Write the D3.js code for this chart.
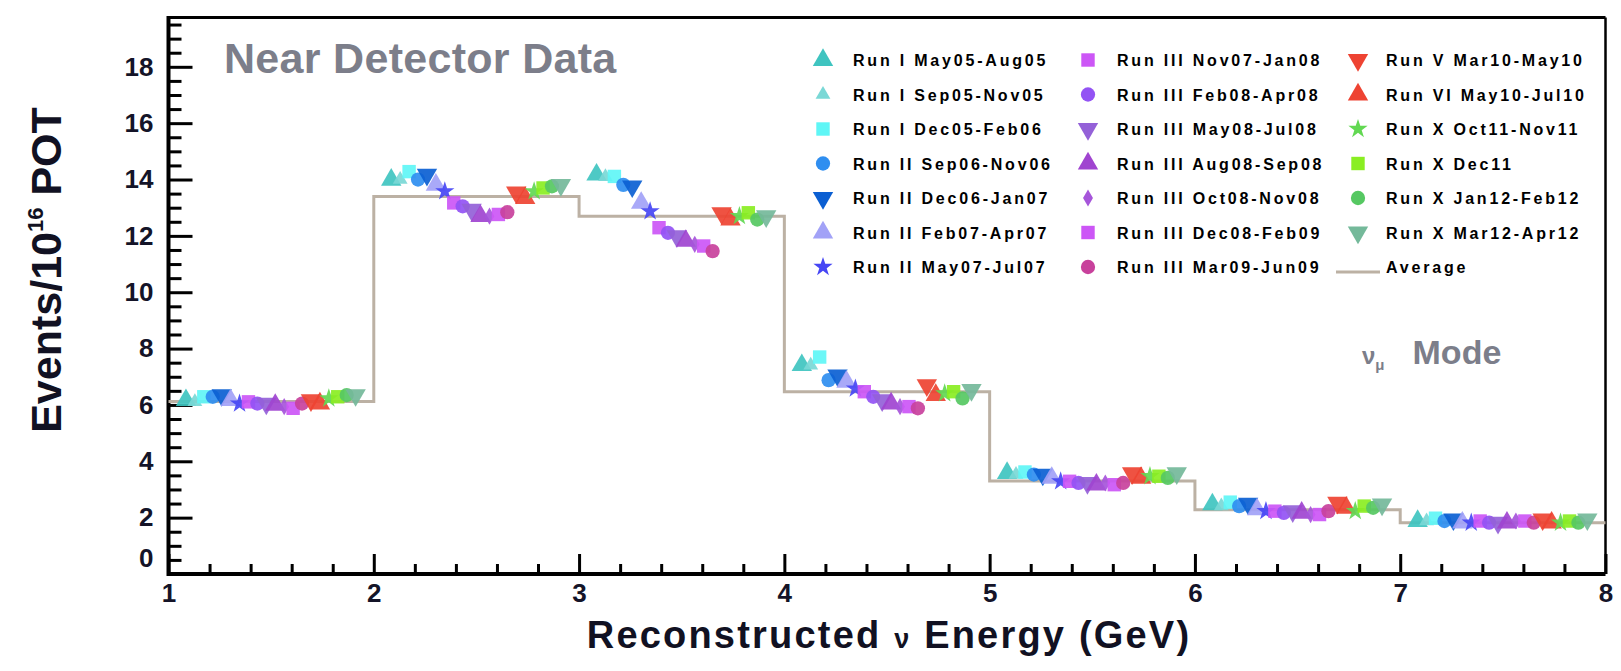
<!DOCTYPE html>
<html><head><meta charset="utf-8">
<script src="https://cdn.jsdelivr.net/npm/d3@7"></script>
<style>
html,body{margin:0;padding:0;background:#fff;}
svg{display:block;font-family:"Liberation Sans",Arial,Helvetica,sans-serif;}
</style></head>
<body>
<svg id="c" width="1621" height="671"></svg>
<script>
// ---------- data ----------
const binEdges = [1, 2, 3, 4, 5, 6, 7, 8];
const averageValues = [6.12, 13.4, 12.7, 6.47, 3.3, 2.28, 1.82];
const seriesNames = [
  "Run I May05-Aug05", "Run I Sep05-Nov05", "Run I Dec05-Feb06", "Run II Sep06-Nov06",
  "Run II Dec06-Jan07", "Run II Feb07-Apr07", "Run II May07-Jul07",
  "Run III Nov07-Jan08", "Run III Feb08-Apr08", "Run III May08-Jul08", "Run III Aug08-Sep08",
  "Run III Oct08-Nov08", "Run III Dec08-Feb09", "Run III Mar09-Jun09",
  "Run V Mar10-May10", "Run VI May10-Jul10", "Run X Oct11-Nov11", "Run X Dec11",
  "Run X Jan12-Feb12", "Run X Mar12-Apr12"
];
// values per series, one per bin (1-2, 2-3, ..., 7-8)
const runIMay05 = [6.17, 13.99, 14.17, 7.41, 3.58, 2.47, 1.88];
const runISep05 = [6.11, 14.00, 14.10, 7.41, 3.53, 2.41, 1.88];
const runIDec05 = [6.29, 14.28, 14.11, 7.70, 3.62, 2.55, 1.98];
const runIISep06 = [6.29, 14.00, 13.81, 6.88, 3.53, 2.41, 1.88];
const runIIDec06 = [6.35, 14.17, 13.76, 7.05, 3.53, 2.50, 1.94];
const runIIFeb07 = [6.17, 13.81, 13.17, 6.82, 3.41, 2.29, 1.82];
const runIIMay07 = [6.05, 13.58, 12.87, 6.58, 3.29, 2.23, 1.82];
const runIIINov07 = [6.11, 13.17, 12.29, 6.47, 3.29, 2.23, 1.88];
const runIIIFeb08 = [6.05, 13.05, 12.11, 6.29, 3.23, 2.17, 1.82];
const runIIIMay08 = [6.05, 12.93, 11.99, 6.17, 3.23, 2.23, 1.82];
const runIIIAug08 = [6.00, 12.70, 11.82, 6.05, 3.17, 2.17, 1.82];
const runIIIOct08 = [5.94, 12.70, 11.70, 5.94, 3.23, 2.11, 1.88];
const runIIIDec08 = [5.88, 12.76, 11.64, 5.94, 3.17, 2.11, 1.88];
const runIIIMar09 = [6.05, 12.84, 11.46, 5.88, 3.23, 2.23, 1.82];
const runVMar10 = [6.17, 13.54, 12.81, 6.70, 3.58, 2.53, 1.94];
const runVIMay10 = [6.05, 13.34, 12.58, 6.35, 3.41, 2.35, 1.82];
const runXOct11 = [6.23, 13.58, 12.70, 6.41, 3.47, 2.23, 1.82];
const runXDec11 = [6.29, 13.70, 12.82, 6.47, 3.47, 2.41, 1.88];
const runXJan12 = [6.35, 13.76, 12.58, 6.23, 3.41, 2.35, 1.82];
const runXMar12 = [6.35, 13.81, 12.70, 6.53, 3.58, 2.47, 1.94];
const seriesValues = [runIMay05, runISep05, runIDec05, runIISep06, runIIDec06, runIIFeb07, runIIMay07,
  runIIINov07, runIIIFeb08, runIIIMay08, runIIIAug08, runIIIOct08, runIIIDec08, runIIIMar09,
  runVMar10, runVIMay10, runXOct11, runXDec11, runXJan12, runXMar12];
const yTickValues = [0, 2, 4, 6, 8, 10, 12, 14, 16, 18];
const xTickValues = [1, 2, 3, 4, 5, 6, 7, 8];

// ---------- styles ----------
const colors = ["#3fc4c0", "#7ad8d6", "#5ff6f6", "#2f8ef0", "#0b5fd2", "#a2a2f7", "#4646f4",
  "#cc56f6", "#9353f4", "#9461d8", "#a044d0", "#a655da", "#cc56f6", "#c8419c",
  "#ee4332", "#ee4332", "#62d852", "#8aee22", "#56c862", "#74b99a"];
const shapes = ["tri", "trismall", "square", "circle", "tridown", "tri", "star",
  "square", "circle", "tridown", "tri", "diamond", "square", "circle",
  "tridown", "tri", "star", "square", "circle", "tridown"];

const svg = d3.select("#c");
const L = 168.5, R = 1605.5, T = 17.5, B = 574;
const x = d3.scaleLinear().domain([1, 8]).range([L, R]);
const y = d3.scaleLinear().domain([0, 19.75]).range([B, T]);

function symbolFor(s) {
  switch (s) {
    case "tri": return d3.symbol().type(d3.symbolTriangle).size(180)();
    case "trismall": return d3.symbol().type(d3.symbolTriangle).size(95)();
    case "tridown": return d3.symbol().type(d3.symbolTriangle).size(180)();
    case "square": return d3.symbol().type(d3.symbolSquare).size(180)();
    case "circle": return d3.symbol().type(d3.symbolCircle).size(160)();
    case "star": return d3.symbol().type(d3.symbolStar).size(115)();
    case "diamond": return d3.symbol().type(d3.symbolDiamond).size(85)();
  }
}
function rot(s) { return s === "tridown" ? " rotate(180)" : ""; }

// ---------- axes ticks (inward) ----------
const minorY = d3.range(0, 19.6, 0.5).filter(v => v % 2 !== 0);
const minorX = d3.range(1, 8.001, 0.2).map(v => +v.toFixed(1)).filter(v => Math.abs(v - Math.round(v)) > 1e-6);

const gy = svg.append("g").attr("transform", `translate(${L},0)`);
gy.append("g").call(d3.axisRight(y).tickValues(yTickValues).tickSize(24).tickFormat(""));
gy.append("g").call(d3.axisRight(y).tickValues(minorY).tickSize(13).tickFormat(""));
gy.selectAll(".domain").remove();
gy.selectAll("line").attr("stroke", "#000").attr("stroke-width", 3);

const gyl = svg.append("g").attr("transform", `translate(${L},0)`)
  .call(d3.axisLeft(y).tickValues(yTickValues).tickSize(0).tickPadding(15).tickFormat(d3.format("d")));
gyl.select(".domain").remove();
gyl.selectAll("text").attr("font-size", 26).attr("font-weight", "bold").attr("fill", "#141428")
  .attr("font-family", "'Liberation Sans', Arial, sans-serif");
gyl.selectAll(".tick").filter(d => d === 0).select("text").attr("dy", "-0.3em");

const gx = svg.append("g").attr("transform", `translate(0,${B})`);
gx.append("g").call(d3.axisTop(x).tickValues(xTickValues).tickSize(20).tickFormat(""));
gx.append("g").call(d3.axisTop(x).tickValues(minorX).tickSize(10).tickFormat(""));
gx.selectAll(".domain").remove();
gx.selectAll("line").attr("stroke", "#000").attr("stroke-width", 3);

const gxl = svg.append("g").attr("transform", `translate(0,${B})`)
  .call(d3.axisBottom(x).tickValues(xTickValues).tickSize(0).tickPadding(10).tickFormat(d3.format("d")));
gxl.select(".domain").remove();
gxl.selectAll("text").attr("font-size", 26).attr("font-weight", "bold").attr("fill", "#141428")
  .attr("font-family", "'Liberation Sans', Arial, sans-serif");

// ---------- frame ----------
svg.append("line").attr("x1", L).attr("x2", R).attr("y1", T).attr("y2", T).attr("stroke", "#000").attr("stroke-width", 3);
svg.append("line").attr("x1", R).attr("x2", R).attr("y1", T).attr("y2", B).attr("stroke", "#000").attr("stroke-width", 2.5);
svg.append("line").attr("x1", L).attr("x2", L).attr("y1", T - 1.5).attr("y2", B + 2).attr("stroke", "#000").attr("stroke-width", 4);
svg.append("line").attr("x1", L).attr("x2", R).attr("y1", B).attr("y2", B).attr("stroke", "#000").attr("stroke-width", 4);

// ---------- average step line ----------
const stepData = averageValues.map((v, i) => ({ x0: binEdges[i], x1: binEdges[i + 1], v }));
const stepPts = [];
stepData.forEach(d => { stepPts.push([d.x0, d.v]); stepPts.push([d.x1, d.v]); });
svg.append("path")
  .attr("d", d3.line().x(p => x(p[0])).y(p => y(p[1]))(stepPts))
  .attr("fill", "none").attr("stroke", "#bcb1a4").attr("stroke-width", 3);

// ---------- points ----------
seriesValues.forEach((vals, si) => {
  vals.forEach((v, bi) => {
    const xv = binEdges[bi] + 0.085 + si * 0.0435;
    svg.append("path")
      .attr("d", symbolFor(shapes[si]))
      .attr("transform", `translate(${x(xv)},${y(v)})${rot(shapes[si])}`)
      .attr("fill", colors[si]).attr("opacity", 0.92);
  });
});

// ---------- texts ----------
svg.append("text").attr("x", 224).attr("y", 73).text("Near Detector Data")
  .attr("font-size", 43).attr("font-weight", "bold").attr("fill", "#7c7e8a").attr("letter-spacing", 0.3);

const mode = svg.append("text").attr("x", 1362).attr("y", 364).attr("font-weight", "bold").attr("fill", "#7c7e8a");
mode.append("tspan").attr("font-size", 24).text("ν");
mode.append("tspan").attr("font-size", 15).attr("dy", 6).text("μ");
mode.append("tspan").attr("font-size", 34).attr("dy", -6).attr("dx", 28).text("Mode");

const yt = svg.append("text").attr("transform", "translate(61,270) rotate(-90)")
  .attr("text-anchor", "middle").attr("font-weight", "bold").attr("fill", "#111122").attr("font-size", 43);
yt.append("tspan").text("Events/10");
yt.append("tspan").attr("font-size", 22).attr("dy", -18).text("16");
yt.append("tspan").attr("dy", 18).text(" POT");

const xt = svg.append("text").attr("x", 889).attr("y", 648).attr("text-anchor", "middle")
  .attr("font-weight", "bold").attr("fill", "#111122").attr("font-size", 38).attr("letter-spacing", 2.2);
xt.append("tspan").text("Reconstructed ");
xt.append("tspan").attr("font-size", 27).text("ν");
xt.append("tspan").text(" Energy (GeV)");

// ---------- legend ----------
const colX = [823, 1088, 1358];
const textX = [853, 1117, 1386];
const rowY0 = 60, rowDY = 34.5;
seriesNames.forEach((name, i) => {
  const c = Math.floor(i / 7), r = i % 7;
  const cy = rowY0 + r * rowDY;
  svg.append("path").attr("d", symbolFor(shapes[i]))
    .attr("transform", `translate(${colX[c]},${cy})${rot(shapes[i])}`)
    .attr("fill", colors[i]);
  svg.append("text").attr("x", textX[c]).attr("y", cy + 6).text(name)
    .attr("font-size", 16).attr("font-weight", "bold").attr("fill", "#000").attr("letter-spacing", 2.8);
});
{
  const cy = rowY0 + 6 * rowDY;
  svg.append("line").attr("x1", colX[2] - 22).attr("x2", colX[2] + 22).attr("y1", cy + 5).attr("y2", cy + 5)
    .attr("stroke", "#bcb1a4").attr("stroke-width", 3);
  svg.append("text").attr("x", textX[2]).attr("y", cy + 6).text("Average")
    .attr("font-size", 16).attr("font-weight", "bold").attr("fill", "#000").attr("letter-spacing", 2.8);
}
</script>
</body></html>
